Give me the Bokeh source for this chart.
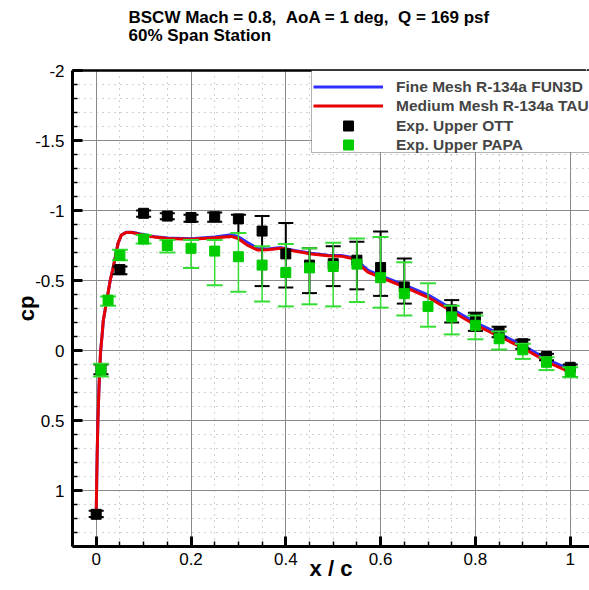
from bokeh.plotting import figure
from bokeh.models import (Range1d, FixedTicker, LinearAxis, Legend, LegendItem,
                          Title, BoxAnnotation)
from bokeh.embed import file_html
from bokeh.resources import INLINE

# ---------------- data ----------------
fun3d_x = [0.0, 0.001, 0.002, 0.0036, 0.006, 0.009, 0.0127, 0.015, 0.0225, 0.0295,
           0.035, 0.039, 0.046, 0.053, 0.063, 0.075, 0.084, 0.098, 0.123, 0.151,
           0.2, 0.25, 0.285, 0.299, 0.32, 0.341, 0.362, 0.39, 0.418, 0.454,
           0.489, 0.517, 0.542, 0.552, 0.573, 0.598, 0.65, 0.70, 0.75, 0.798,
           0.85, 0.897, 0.953, 1.0]
fun3d_cp = [1.17, 0.95, 0.75, 0.5, 0.25, 0.02, -0.12, -0.215, -0.36, -0.5,
            -0.58, -0.645, -0.765, -0.825, -0.844, -0.845, -0.839, -0.829, -0.813, -0.803,
            -0.798, -0.81, -0.826, -0.815, -0.77, -0.728, -0.725, -0.735, -0.715, -0.695,
            -0.68, -0.679, -0.663, -0.635, -0.575, -0.537, -0.468, -0.398, -0.298, -0.203,
            -0.12, -0.042, 0.067, 0.135]

tau_x = [0.0, 0.001, 0.002, 0.0036, 0.006, 0.009, 0.0127, 0.015, 0.0225, 0.0295,
         0.035, 0.039, 0.046, 0.053, 0.063, 0.075, 0.084, 0.098, 0.123, 0.151,
         0.2, 0.25, 0.285, 0.299, 0.32, 0.341, 0.362, 0.39, 0.418, 0.454,
         0.489, 0.517, 0.542, 0.552, 0.573, 0.598, 0.65, 0.70, 0.75, 0.798,
         0.85, 0.897, 0.953, 1.0]
tau_cp = [1.17, 0.95, 0.75, 0.5, 0.25, 0.02, -0.12, -0.215, -0.36, -0.5,
          -0.58, -0.645, -0.765, -0.824, -0.843, -0.843, -0.836, -0.826, -0.81, -0.80,
          -0.795, -0.805, -0.815, -0.80, -0.75, -0.717, -0.72, -0.73, -0.71, -0.69,
          -0.676, -0.674, -0.655, -0.62, -0.56, -0.525, -0.455, -0.38, -0.28, -0.186,
          -0.10, -0.024, 0.084, 0.155]

ott_x = [0.0, 0.01, 0.05, 0.1, 0.15, 0.2, 0.25, 0.3, 0.35, 0.4, 0.45,
         0.5, 0.55, 0.6, 0.65, 0.75, 0.8, 0.85, 0.9, 0.95, 1.0]
ott_cp = [1.17, 0.13, -0.578, -0.98, -0.96, -0.95, -0.955, -0.94, -0.853, -0.69, -0.61,
          -0.62, -0.645, -0.593, -0.454, -0.29, -0.227, -0.13, -0.048, 0.043, 0.12]
ott_cp_min = [1.145, 0.10, -0.60, -1.0, -0.98, -0.97, -0.985, -0.97, -0.96, -0.91, -0.73,
              -0.745, -0.776, -0.85, -0.657, -0.36, -0.27, -0.17, -0.077, 0.024, 0.10]
ott_cp_max = [1.19, 0.17, -0.545, -0.955, -0.937, -0.92, -0.92, -0.84, -0.46, -0.45, -0.41,
              -0.46, -0.437, -0.39, -0.335, -0.20, -0.14, -0.095, -0.012, 0.07, 0.19]

papa_x = [0.01, 0.025, 0.05, 0.1, 0.15, 0.2, 0.25, 0.3, 0.35, 0.4, 0.45,
          0.5, 0.55, 0.6, 0.65, 0.7, 0.75, 0.8, 0.85, 0.9, 0.95, 1.0]
papa_cp = [0.14, -0.36, -0.68, -0.796, -0.75, -0.73, -0.71, -0.67, -0.61, -0.557, -0.59,
           -0.60, -0.617, -0.52, -0.406, -0.315, -0.24, -0.18, -0.084, -0.005, 0.084, 0.15]
papa_cp_min = [0.095, -0.385, -0.72, -0.825, -0.79, -0.79, -0.79, -0.84, -0.745, -0.76, -0.73,
               -0.77, -0.80, -0.81, -0.63, -0.48, -0.32, -0.25, -0.136, -0.048, 0.048, 0.12]
papa_cp_max = [0.185, -0.32, -0.645, -0.765, -0.70, -0.59, -0.466, -0.42, -0.35, -0.315, -0.33,
               -0.315, -0.346, -0.306, -0.25, -0.17, -0.115, -0.08, -0.007, 0.06, 0.14, 0.19]

x_ticks = [0, 0.2, 0.4, 0.6, 0.8, 1.0]
x_tick_labels = ["0", "0.2", "0.4", "0.6", "0.8", "1"]
y_ticks = [-2, -1.5, -1, -0.5, 0, 0.5, 1]
y_tick_labels = ["-2", "-1.5", "-1", "-0.5", "0", "0.5", "1"]

series_labels = ["Fine Mesh R-134a FUN3D", "Medium Mesh R-134a TAU",
                 "Exp. Upper OTT", "Exp. Upper PAPA"]
title_lines = ["BSCW Mach = 0.8, \u00a0AoA = 1 deg, \u00a0Q = 169 psf", "60% Span Station"]

# ---------------- figure ----------------
FONT = "Liberation Sans"
BLUE = "#3030ff"
RED = "#e60000"
GREEN = "#00cc00"
GREEN_BAR = "#33dd33"

x_minor = [round(-0.05 + 0.05 * i, 2) for i in range(23)]
y_minor = [round(-2 + 0.1 * i, 1) for i in range(35)]

p = figure(width=589, height=590, output_backend="svg", toolbar_location=None,
           title=None,
           x_range=Range1d(-0.05, 1.0407), y_range=Range1d(1.4, -2),
           min_border_left=72, min_border_right=0, min_border_top=70,
           min_border_bottom=44, x_axis_label="x / c", y_axis_label="cp")
p.outline_line_color = None
p.background_fill_color = "white"
p.border_fill_color = "white"

xt = FixedTicker(ticks=x_ticks, minor_ticks=x_minor)
yt = FixedTicker(ticks=y_ticks, minor_ticks=y_minor)
p.xaxis.ticker = xt
p.yaxis.ticker = yt
p.xgrid.ticker = xt
p.ygrid.ticker = yt
p.xaxis.major_label_overrides = dict(zip(x_ticks, x_tick_labels))
p.yaxis.major_label_overrides = dict(zip(y_ticks, y_tick_labels))

for ax in (p.xaxis, p.yaxis):
    ax.axis_line_width = 3
    ax.axis_line_color = "black"
    ax.major_tick_in = 10
    ax.major_tick_out = 0
    ax.minor_tick_in = 5
    ax.minor_tick_out = 0
    ax.major_tick_line_width = 3
    ax.minor_tick_line_width = 1.5
    ax.major_label_text_font = FONT
    ax.major_label_text_font_size = "17px"
    ax.major_label_text_color = "black"
    ax.axis_label_text_font = FONT
    ax.axis_label_text_font_style = "bold"
    ax.axis_label_text_font_size = "22px"
    ax.axis_label_text_color = "black"
p.xaxis.major_label_standoff = 6
p.xaxis.axis_label_standoff = -12
p.yaxis.major_label_standoff = 8
p.yaxis.axis_label_standoff = -7

for g in (p.xgrid, p.ygrid):
    g.grid_line_color = "#8a8a8a"
    g.grid_line_width = 1
    g.minor_grid_line_color = "#a0a0a0"
    g.minor_grid_line_dash = "1 5"
    g.minor_grid_line_width = 1

# top frame line; one invisible (white) outward tick at the far right edge
# reserves the space between the frame and the title lines
top_axis = LinearAxis(ticker=FixedTicker(ticks=[1.035]), axis_line_width=2.5,
                      axis_line_color="black", major_tick_in=0, major_tick_out=29,
                      major_tick_line_color="white", major_tick_line_width=1,
                      minor_tick_in=0, minor_tick_out=0,
                      major_label_text_color=None, major_label_text_font_size="1px",
                      major_label_standoff=0, major_label_overrides={1.035: ""})
p.add_layout(top_axis, "above")

# titles (sub line first: closest to the frame)
p.add_layout(Title(text=title_lines[1], align="left", offset=56, standoff=-6,
                   text_font=FONT, text_font_style="bold", text_font_size="17px",
                   text_color="black"), "above")
p.add_layout(Title(text=title_lines[0], align="left", offset=56, standoff=0,
                   text_font=FONT, text_font_style="bold", text_font_size="17px",
                   text_color="black"), "above")

# CFD lines
r_fun3d = p.line(fun3d_x, fun3d_cp, line_color=BLUE, line_width=3)
r_tau = p.line(tau_x, tau_cp, line_color=RED, line_width=3)

# OTT
p.segment(x0=ott_x, y0=ott_cp_min, x1=ott_x, y1=ott_cp_max, line_color="black", line_width=2)
p.scatter(ott_x, ott_cp_min, marker="dash", size=15, line_color="black", line_width=2)
p.scatter(ott_x, ott_cp_max, marker="dash", size=15, line_color="black", line_width=2)
r_ott = p.scatter(ott_x, ott_cp, marker="square", size=10, fill_color="black", line_color="black")

# PAPA
p.segment(x0=papa_x, y0=papa_cp_min, x1=papa_x, y1=papa_cp_max, line_color=GREEN_BAR, line_width=1.5)
p.scatter(papa_x, papa_cp_min, marker="dash", size=16, line_color=GREEN_BAR, line_width=2)
p.scatter(papa_x, papa_cp_max, marker="dash", size=16, line_color=GREEN_BAR, line_width=2)
r_papa = p.scatter(papa_x, papa_cp, marker="square", size=10, fill_color=GREEN, line_color=GREEN)

# legend box
box = BoxAnnotation(left=239, bottom=394, right=530, left_units="screen",
                    bottom_units="screen", right_units="screen",
                    fill_color="white", fill_alpha=1, line_color="black", line_width=1)
p.add_layout(box)

# one legend per row so each glyph area is 25 px tall (marker size 10)
row_bottoms = [447, 428, 408, 389]
for lab, rend, yb in zip(series_labels, [r_fun3d, r_tau, r_ott, r_papa], row_bottoms):
    lg = Legend(items=[LegendItem(label=lab, renderers=[rend])],
                location=(241, yb), padding=0, margin=0, spacing=0,
                glyph_width=70, glyph_height=25, label_height=25, label_standoff=13,
                label_text_font=FONT, label_text_font_style="bold",
                label_text_font_size="15.5px", border_line_color=None,
                background_fill_alpha=0)
    p.add_layout(lg)

open("out.html", "w").write(file_html(p, INLINE))
